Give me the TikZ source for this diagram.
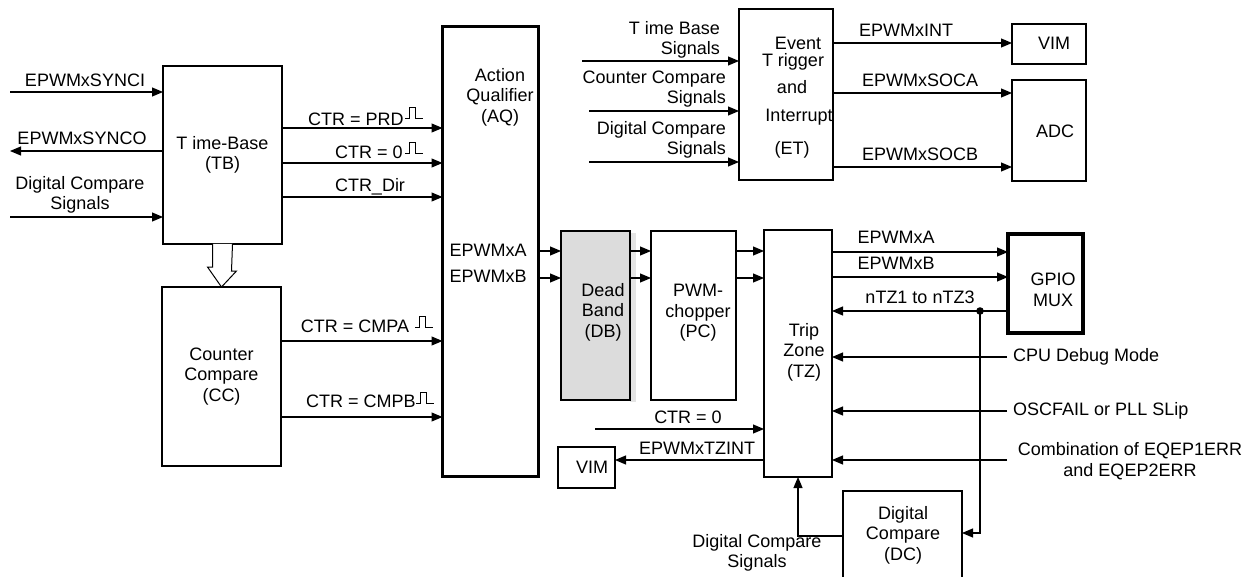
\documentclass[tikz,border=0pt]{standalone}
\usepackage{fontspec}
\setmainfont{Liberation Sans}
\usetikzlibrary{arrows.meta,calc}
\definecolor{dbgray}{HTML}{DCDCDC}
\definecolor{shadowgray}{HTML}{E4E4E4}
\begin{document}
\begin{tikzpicture}[x=1pt,y=-1pt,
  font=\fontsize{18}{20.5}\selectfont,
  blk/.style={draw=black,line width=2.6pt,outer sep=0pt,inner sep=0pt,align=center},
  conn/.style={line width=1.1pt,-{Triangle[length=11pt,width=9pt]}},
  plainln/.style={line width=1.1pt},
  lbl/.style={inner sep=0pt,align=center},
  pulsesym/.pic={\draw[line width=0.9pt] (0,0)--(4,0)--(4,-11)--(10,-11)--(10,0)--(18,0);}
]
\useasboundingbox (0,0) rectangle (1257,577);

% ---------- boxes ----------
\node[blk,minimum width=119pt,minimum height=178pt] (tb) at (222.5,155) {T ime-Base\\(TB)};
\node[blk,minimum width=119pt,minimum height=179pt] (cc) at (221.5,376.5) {Counter\\Compare\\(CC)};
\node[blk,minimum width=96pt,minimum height=450pt] (aq) at (490.5,251.5) {};
\node[lbl] (aqtxt) at (500,97) {Action\\Qualifier\\(AQ)};
\node[lbl] (aqa) at (488,250) {EPWMxA};
\node[lbl] (aqb) at (488,276) {EPWMxB};

\fill[shadowgray] (630,233) rectangle (636,402);
\node[blk,fill=dbgray,minimum width=69pt,minimum height=169pt] (db) at (595.5,315.5) {};
\node[lbl] (dbtxt) at (603,312) {Dead\\Band\\(DB)};
\node[blk,minimum width=85pt,minimum height=169pt] (pc) at (693.5,315.5) {};
\node[lbl] (pctxt) at (698,313) {PWM-\\chopper\\(PC)};
\node[blk,minimum width=68pt,minimum height=247pt] (tz) at (798,353.5) {};
\node[lbl] (tztxt) at (804,352) {Trip\\Zone\\(TZ)};

\node[blk,minimum width=94pt,minimum height=171pt] (et) at (786,94.5) {};
\node[lbl] (et1) at (798,43) {Event};
\node[lbl] (et2) at (793,62) {T rigger};
\node[lbl] (et3) at (792,87) {and};
\node[lbl] (et4) at (799,117) {Interrupt};
\node[lbl] (et5) at (792,150) {(ET)};

\node[blk,minimum width=74pt,minimum height=40pt] (vim1) at (1049,44) {};
\node[lbl] (vim1t) at (1054,43) {VIM};
\node[blk,minimum width=74pt,minimum height=101pt] (adc) at (1049,130.5) {};
\node[lbl] (adct) at (1055,131) {ADC};
\node[blk,line width=4.5pt,minimum width=75pt,minimum height=99pt] (gpio) at (1045.5,283.5) {};
\node[lbl] (gpiot) at (1053,290) {GPIO\\MUX};
\node[blk,minimum width=57pt,minimum height=41pt] (vim2) at (586.5,467.5) {};
\node[lbl] (vim2t) at (592,467) {VIM};

\begin{scope}
\clip (0,0) rectangle (1257,577);
\node[blk,minimum width=119pt,minimum height=110pt] (dc) at (902.5,546) {};
\end{scope}
\node[lbl] (dct) at (903,535) {Digital\\Compare\\(DC)};

% ---------- TB inputs / outputs ----------
\coordinate (synci) at (10,92);
\coordinate (synco) at (10,151);
\coordinate (dcsig) at (10,217);
\draw[conn] (synci) -- (synci -| tb.west);
\node[lbl] at (85,80) {EPWMxSYNCI};
\draw[conn] (synco -| tb.west) -- (synco);
\node[lbl] at (82,138) {EPWMxSYNCO};
\draw[conn] (dcsig) -- (dcsig -| tb.west);
\node[lbl] at (80,195) {Digital Compare\\Signals};

% hollow arrow TB -> CC
\draw[line width=1pt,fill=white] ($(tb.south)+(-10,0)$) -- ++(0,23) -- ++(-5,0) -- (cc.north) -- ++(15,-16) -- ++(-5,0) -- ($(tb.south)+(10,0)$);

% TB -> AQ
\draw[conn] (tb.east |- 0,128) -- (aq.west |- 0,128);
\node[lbl] at (356,119) {CTR = PRD};
\pic at (405,118) {pulsesym};
\draw[conn] (tb.east |- 0,163) -- (aq.west |- 0,163);
\node[lbl] at (369,152) {CTR = 0};
\pic at (405,153) {pulsesym};
\draw[conn] (tb.east |- 0,197) -- (aq.west |- 0,197);
\node[lbl] at (370,187) {CTR\_Dir};

% CC -> AQ
\draw[conn] (cc.east |- 0,341) -- (aq.west |- 0,341);
\node[lbl] at (355,326) {CTR = CMPA};
\pic at (415,327) {pulsesym};
\draw[conn] (cc.east |- 0,417) -- (aq.west |- 0,417);
\node[lbl] at (361,401) {CTR = CMPB};
\pic at (416,403) {pulsesym};

% AQ -> DB -> PC -> TZ
\foreach \yy in {251,278}{
  \draw[conn] (aq.east |- 0,\yy) -- (db.west |- 0,\yy);
  \draw[conn] (db.east |- 0,\yy) -- (pc.west |- 0,\yy);
  \draw[conn] (pc.east |- 0,\yy) -- (tz.west |- 0,\yy);
}

% TZ -> GPIO
\draw[conn] (tz.east |- 0,252) -- (gpio.west |- 0,252);
\node[lbl] at (896,237) {EPWMxA};
\draw[conn] (tz.east |- 0,277) -- (gpio.west |- 0,277);
\node[lbl] at (896,263) {EPWMxB};
\coordinate (ntzdot) at (980,311);
\draw[conn] (gpio.west |- ntzdot) -- (tz.east |- ntzdot);
\fill (ntzdot) circle (3.8pt);
\node[lbl] at (920,297) {nTZ1 to nTZ3};
\draw[conn] (ntzdot) -- (980,533) -- (dc.east |- 0,533);

% right-side TZ inputs
\coordinate (cpu) at (1007,357);
\coordinate (osc) at (1007,411);
\coordinate (eqep) at (1007,460);
\draw[conn] (cpu) -- (cpu -| tz.east);
\node[lbl,anchor=west] at (1013,357) {CPU Debug Mode};
\draw[conn] (osc) -- (osc -| tz.east);
\node[lbl,anchor=west] at (1013,411) {OSCFAIL or PLL SLip};
\draw[conn] (eqep) -- (eqep -| tz.east);
\node[lbl] at (1130,461) {Combination of EQEP1ERR\\and EQEP2ERR};

% CTR = 0 into TZ, TZINT out
\coordinate (ctrz) at (595,429);
\draw[conn] (ctrz) -- (ctrz -| tz.west);
\node[lbl] at (688,417) {CTR = 0};
\draw[conn] (tz.west |- 0,460) -- (vim2.east |- 0,460);
\node[lbl] at (697,448) {EPWMxTZINT};

% DC -> TZ
\draw[conn] (dc.west |- 0,536) -- (tz.south |- 0,536) -- (tz.south);
\node[lbl] at (757,553) {Digital Compare\\Signals};

% ET inputs
\coordinate (tbs) at (582,61);
\coordinate (ccs) at (589,111);
\coordinate (dcs) at (589,162);
\draw[conn] (tbs) -- (tbs -| et.west);
\node[lbl,align=right,anchor=east] at (720,40) {T ime Base\\Signals};
\draw[conn] (ccs) -- (ccs -| et.west);
\node[lbl,align=right,anchor=east] at (726,89) {Counter Compare\\Signals};
\draw[conn] (dcs) -- (dcs -| et.west);
\node[lbl,align=right,anchor=east] at (726,140) {Digital Compare\\Signals};

% ET outputs
\draw[conn] (et.east |- 0,43) -- (vim1.west |- 0,43);
\node[lbl] at (906,30) {EPWMxINT};
\draw[conn] (et.east |- 0,93) -- (adc.west |- 0,93);
\node[lbl] at (920,80) {EPWMxSOCA};
\draw[conn] (et.east |- 0,167) -- (adc.west |- 0,167);
\node[lbl] at (920,154) {EPWMxSOCB};
\end{tikzpicture}
\end{document}
